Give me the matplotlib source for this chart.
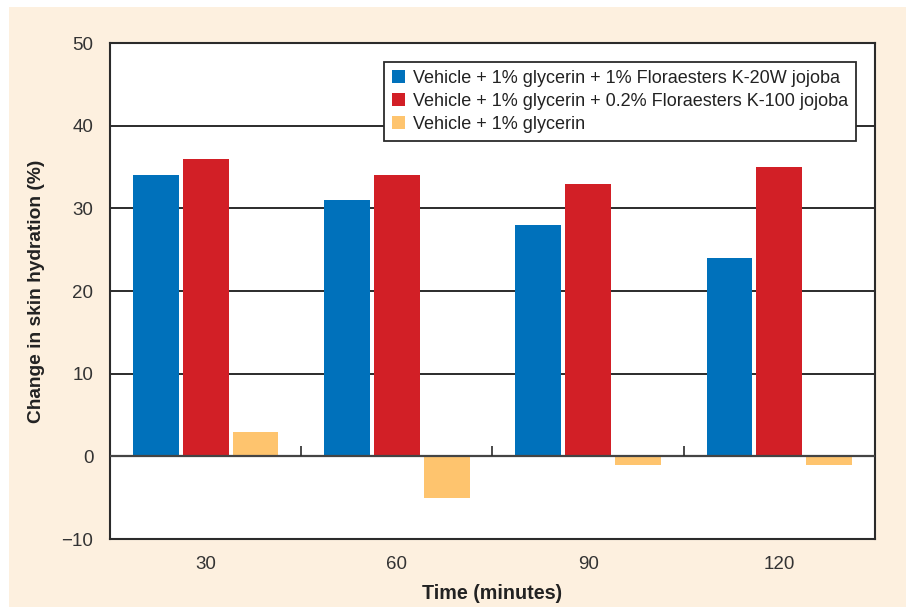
import matplotlib
matplotlib.use("Agg")
import matplotlib.pyplot as plt
import numpy as np
from matplotlib.patches import Rectangle

categories = ["30", "60", "90", "120"]
series_names = [
    "Vehicle + 1% glycerin + 1% Floraesters K-20W jojoba",
    "Vehicle + 1% glycerin + 0.2% Floraesters K-100 jojoba",
    "Vehicle + 1% glycerin",
]
k20w = [34, 31, 28, 24]
k100 = [36, 34, 33, 35]
vehicle = [3, -5, -1, -1]
yticks = [-10, 0, 10, 20, 30, 40, 50]
ytick_labels = ["\u221210", "0", "10", "20", "30", "40", "50"]

colors = ["#0071BB", "#D21F26", "#FEC46E"]
cream = "#FDF0DF"
dark = "#2B2B2B"

plt.rcParams['font.family'] = ['Liberation Sans', 'DejaVu Sans']

fig = plt.figure(figsize=(9.06, 6.07), dpi=100)
fig.patch.set_facecolor("white")
fig.patches.append(Rectangle((9/906, 0), 1 - 9/906, 1 - 7/607,
                             transform=fig.transFigure, facecolor=cream,
                             edgecolor="none", zorder=-10))

ax = fig.add_axes([110/906, 1 - 539/607, 765/906, 496/607])
ax.set_facecolor("white")

x = np.arange(len(categories))
width = 0.24
step = 0.261
for i, (vals, c, name) in enumerate(zip([k20w, k100, vehicle], colors, series_names)):
    ax.bar(x + (i - 1) * step, vals, width=width, color=c, label=name,
           zorder=2, linewidth=0)

ax.set_xlim(-0.5, len(categories) - 0.5)
ax.set_ylim(-10, 50)
ax.set_yticks(yticks)
ax.set_yticklabels(ytick_labels)
for yv in yticks[2:-1]:
    ax.axhline(yv, color=dark, lw=1.4, zorder=1)
ax.axhline(0, color="#444444", lw=1.6, zorder=3)
# category boundary ticks on zero line
bounds = np.arange(len(categories)) - 0.5
ax.vlines(bounds[1:], 0, 1.2, color=dark, lw=1.2, zorder=3)

ax.set_xticks(x)
ax.set_xticklabels(categories)
ax.tick_params(axis="both", length=0, labelsize=13.5, colors="#333333")
ax.tick_params(axis="x", pad=12)
ax.tick_params(axis="y", pad=12)

for s in ax.spines.values():
    s.set_color(dark)
    s.set_linewidth(1.5)

ax.set_ylabel("Change in skin hydration (%)", fontsize=13.8, fontweight="bold",
              color="#222222", labelpad=12)
ax.set_xlabel("Time (minutes)", fontsize=14.2, fontweight="bold",
              color="#222222", labelpad=8)

leg = ax.legend(loc="upper right", bbox_to_anchor=(1 - 19/765, 1 - 19/496),
                fontsize=13, frameon=True, fancybox=False,
                handlelength=0.7, handleheight=0.7, handletextpad=0.45,
                labelspacing=0.33, borderpad=0.45, borderaxespad=0)
leg.get_frame().set_edgecolor(dark)
leg.get_frame().set_linewidth(1.3)
leg.get_frame().set_facecolor("white")
leg.get_frame().set_alpha(1)
for t in leg.get_texts():
    t.set_color("#222222")

fig.savefig("out.png", dpi=100)
